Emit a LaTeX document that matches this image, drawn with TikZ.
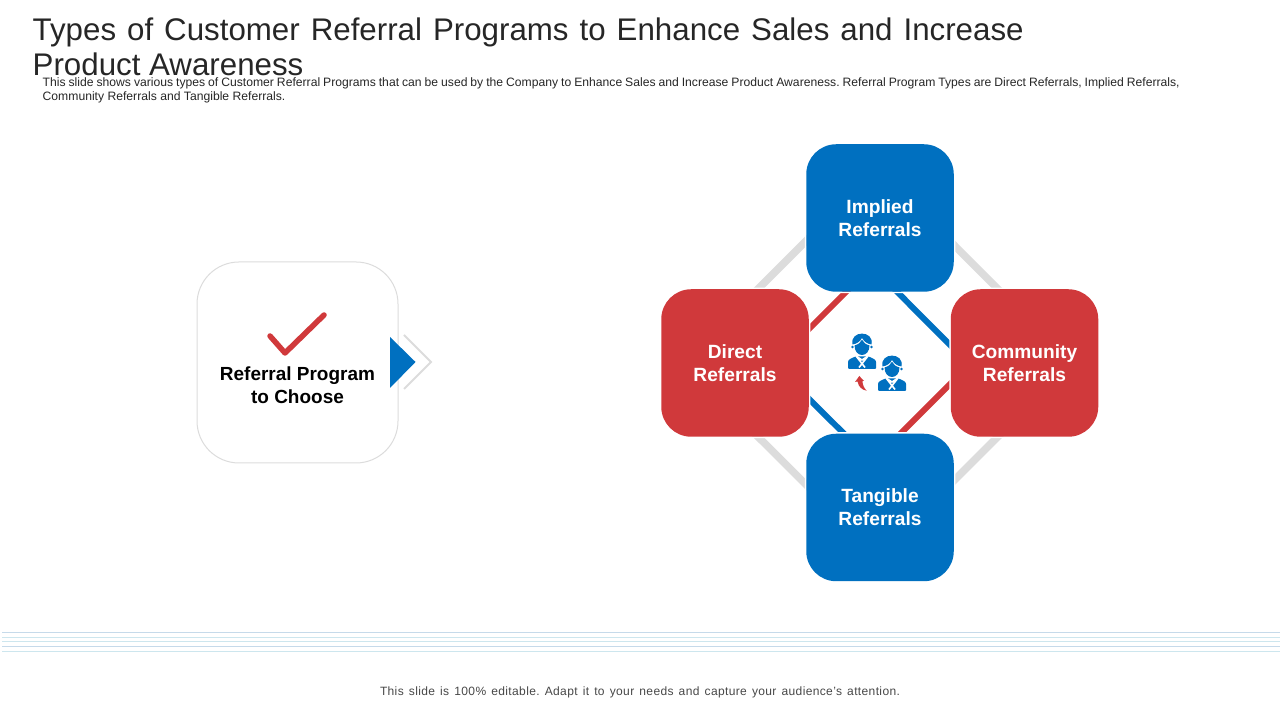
\documentclass[tikz,border=0pt]{standalone}
\usepackage{fontspec}
\setmainfont{Liberation Sans}
\usepackage{xcolor}
\usetikzlibrary{positioning,backgrounds}
\definecolor{refblue}{HTML}{0070C0}
\definecolor{refred}{HTML}{D0393B}
\definecolor{refgray}{HTML}{DCDCDC}
\definecolor{reftext}{HTML}{262626}
\definecolor{rulea}{HTML}{C6DAEA}
\definecolor{ruleb}{HTML}{CDE6EE}
\newcommand{\pxfont}[1]{\fontsize{#1}{#1}\selectfont}
\frenchspacing
\tikzset{
    typebox/.style={minimum size=1.475cm, rounded corners=0.3cm, text=white, align=center, font=\pxfont{5.45}\bfseries, inner sep=0pt},
    bluebox/.style={typebox, fill=refblue},
    redbox/.style={typebox, fill=refred},
    outerlink/.style={refgray, line width=0.075cm},
    redlink/.style={refred, line width=0.06cm},
    bluelink/.style={refblue, line width=0.06cm},
    person/.pic={
        \fill[refblue, rounded corners=0.01cm] (-.14,0) -- (-.14,.06) .. controls (-.14,.1) and (-.1,.105) .. (-.07,.125) -- (.07,.125) .. controls (.1,.105) and (.14,.1) .. (.14,.06) -- (.14,0) -- cycle;
        \draw[white, line width=0.016cm] (-.06,.13) -- (.03,.015) (.06,.13) -- (-.03,.015) (-.06,.13) -- (0,.09) -- (.06,.13);
        \fill[refblue] (-.095,.245) .. controls (-.125,.39) and (.125,.39) .. (.095,.245) .. controls (.06,.25) and (.02,.27) .. (0,.31) .. controls (-.02,.27) and (-.06,.25) .. cycle;
        \fill[refblue] (-.075,.235) .. controls (-.04,.245) and (-.01,.265) .. (0,.292) .. controls (.01,.265) and (.04,.245) .. (.075,.235) .. controls (.075,.175) and (.04,.14) .. (0,.14) .. controls (-.04,.14) and (-.075,.175) .. cycle;
        \fill[refblue] (-.095,.22) circle (.014) (.095,.22) circle (.014);
    }
}
\begin{document}
\begin{tikzpicture}
    \useasboundingbox (0,0) rectangle (12.8,7.2);
    % Header
    \node[anchor=base west, inner sep=0pt, text=reftext, align=left, font=\pxfont{8.9}] (title) at (0.32,6.44) {\makebox[9.91cm][s]{Types of Customer Referral Programs to Enhance Sales and Increase}\\[0.037cm]Product Awareness};
    \node[anchor=base west, inner sep=0pt, text=reftext, align=left, font=\pxfont{3.46}] (subtitle) at (0.42,6.19) {\makebox[11.37cm][s]{This slide shows various types of Customer Referral Programs that can be used by the Company to Enhance Sales and Increase Product Awareness. Referral Program Types are Direct Referrals, Implied Referrals,}\\[0.028cm]Community Referrals and Tangible Referrals.};

    % Left box
    \node[draw=refgray, fill=white, line width=0.01cm, rounded corners=0.42cm, minimum size=2.01cm, inner sep=0pt] (choosebox) at (2.975,3.575) {};
    \node[align=center, inner sep=0pt, font=\pxfont{5.4}\bfseries] (choose) at (2.975,3.35) {Referral Program\\[0.04cm]to Choose};
    \draw[refred, line width=0.055cm, line cap=round, line join=round] (2.7,3.84) -- (2.85,3.67) -- (3.24,4.05);
    \fill[refblue] (3.9,3.83) -- (4.155,3.58) -- (3.9,3.32) -- cycle;
    \draw[refgray, line width=0.02cm] (4.04,3.85) -- (4.31,3.58) -- (4.04,3.31);

    % Types
    \node[bluebox] (implied) at (8.8,5.02) {Implied\\[0.04cm]Referrals};
    \node[redbox] (direct) at (7.35,3.57) {Direct\\[0.04cm]Referrals};
    \node[redbox] (community) at (10.245,3.57) {Community\\[0.04cm]Referrals};
    \node[bluebox] (tangible) at (8.8,2.125) {Tangible\\[0.04cm]Referrals};

    % Links
    \begin{scope}[on background layer]
        \draw[outerlink] ([xshift=-.51cm]direct.center) -- ([xshift=-.51cm]implied.center);
        \draw[redlink] ([xshift=.40cm]direct.center) -- ([xshift=.40cm]implied.center);
        \draw[outerlink] ([xshift=.47cm]implied.center) -- ([xshift=.47cm]community.center);
        \draw[bluelink] ([xshift=-.565cm]implied.center) -- ([xshift=-.565cm]community.center);
        \draw[outerlink] ([xshift=.47cm]community.center) -- ([xshift=.47cm]tangible.center);
        \draw[redlink] ([xshift=-.535cm]community.center) -- ([xshift=-.535cm]tangible.center);
        \draw[outerlink] ([xshift=-.51cm]tangible.center) -- ([xshift=-.51cm]direct.center);
        \draw[bluelink] ([xshift=.38cm]tangible.center) -- ([xshift=.38cm]direct.center);
        % small white gap round the boxes
        \foreach \boxname in {implied,direct,community,tangible}
            \draw[white, line width=0.016cm, rounded corners=0.3cm] (\boxname.south west) rectangle (\boxname.north east);
    \end{scope}

    % Icon
    \pic at (8.62,3.51) {person};
    \pic at (8.92,3.29) {person};
    \fill[refred] (8.593,3.44) -- (8.55,3.38) -- (8.575,3.385) .. controls (8.585,3.33) and (8.62,3.3) .. (8.667,3.293) .. controls (8.64,3.32) and (8.625,3.35) .. (8.625,3.39) -- (8.64,3.39) -- cycle;

    % Bottom rules
    \draw[rulea, line width=0.018cm] (0.02,0.875) -- (12.8,0.875);
    \draw[ruleb, line width=0.018cm] (0.02,0.825) -- (12.8,0.825);
    \draw[ruleb, line width=0.018cm] (0.02,0.785) -- (12.8,0.785);
    \draw[rulea, line width=0.018cm] (0.02,0.735) -- (12.8,0.735);
    \draw[ruleb, line width=0.018cm] (0.02,0.685) -- (12.8,0.685);
    \node[anchor=base, inner sep=0pt, text=reftext!85, font=\pxfont{3.42}] (footer) at (6.4,0.245) {\addfontfeature{LetterSpace=3}\makebox[5.2cm][s]{This slide is 100\% editable. Adapt it to your needs and capture your audience's attention.}};
\end{tikzpicture}
\end{document}
